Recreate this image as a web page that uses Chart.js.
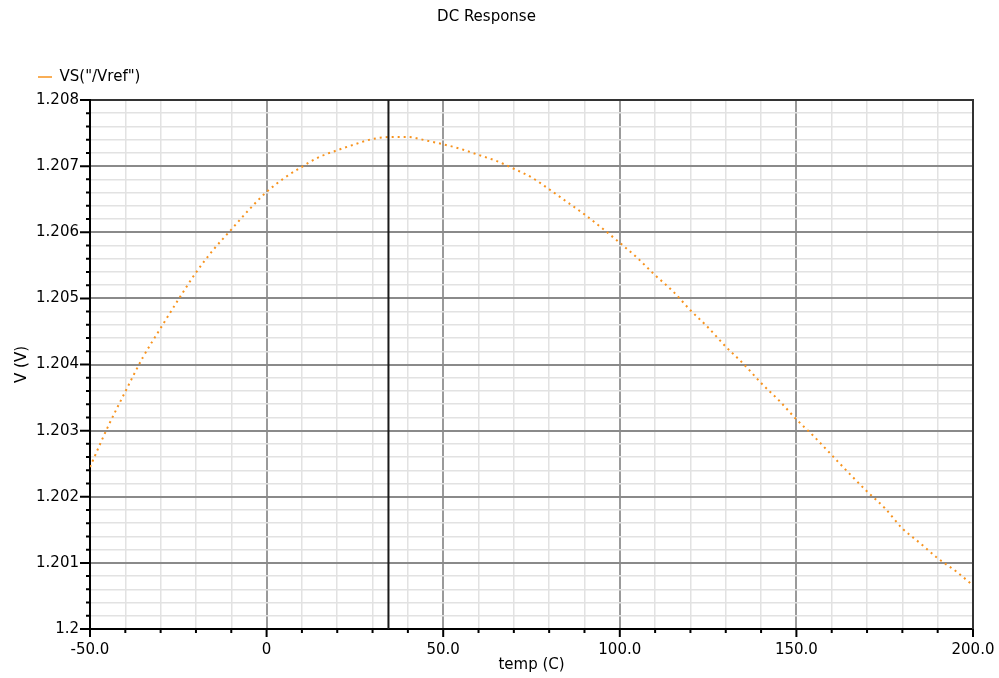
<!DOCTYPE html>
<html>
<head>
<meta charset="utf-8">
<title>DC Response</title>
<script src="https://cdn.jsdelivr.net/npm/chart.js@4.4.1/dist/chart.umd.min.js"></script>
<style>
  html, body { margin: 0; padding: 0; background: #fff; }
  #wrap { width: 999px; height: 678px; }
</style>
</head>
<body>
<div id="wrap"><canvas id="chart" width="999" height="678"></canvas></div>
<script>
// temperature sweep (C)
const temps = [
  -50, -45, -40, -35, -30, -25, -20, -15, -10, -5,
  0, 5, 10, 15, 20, 25, 30, 35, 40, 45,
  50, 55, 60, 65, 70, 75, 80, 85, 90, 95,
  100, 105, 110, 115, 120, 125, 130, 135, 140, 145,
  150, 155, 160, 165, 170, 175, 180, 185, 190, 195, 200
];
// VS("/Vref") in volts
const vref = [
  1.20245, 1.20305, 1.20359, 1.20411, 1.20455, 1.20498, 1.20539, 1.20574, 1.20604, 1.20634,
  1.20661, 1.20682, 1.20699, 1.20714, 1.20724, 1.20733, 1.20741, 1.20744, 1.20744, 1.20739,
  1.20733, 1.20726, 1.20717, 1.20708, 1.20696, 1.20683, 1.20665, 1.20646, 1.20627, 1.20606,
  1.20584, 1.20561, 1.20535, 1.20511, 1.20482, 1.20456, 1.20427, 1.20401, 1.20372, 1.20346,
  1.20317, 1.20291, 1.20263, 1.20235, 1.20208, 1.20183, 1.20152, 1.20130, 1.20107, 1.20088, 1.20066
];
const xRange = [-50, 200];
const yRange = [1.2, 1.208];
const cursorTemp = 34.5;

const orange = '#f7931e';

const isMajorX = (v) => Math.round(v) % 50 === 0;
const isMajorY = (v) => Math.round(v * 10000) % 10 === 0;

// outside tick marks (long on majors, short on minors) + cursor line
const extras = {
  id: 'extras',
  afterDatasetsDraw(chart) {
    const {ctx, chartArea, scales} = chart;
    const cx = scales.x.getPixelForValue(cursorTemp);
    ctx.save();
    ctx.strokeStyle = '#1a1a1a';
    ctx.lineWidth = 2;
    ctx.beginPath();
    ctx.moveTo(cx, chartArea.top);
    ctx.lineTo(cx, chartArea.bottom);
    ctx.stroke();
    ctx.restore();
  },
  afterDraw(chart) {
    const {ctx, chartArea, scales} = chart;
    ctx.save();
    ctx.strokeStyle = '#000';
    ctx.lineWidth = 2;
    ctx.beginPath();
    scales.x.ticks.forEach(t => {
      const px = scales.x.getPixelForValue(t.value);
      const len = isMajorX(t.value) ? 8 : 4;
      ctx.moveTo(px, chartArea.bottom);
      ctx.lineTo(px, chartArea.bottom + len);
    });
    scales.y.ticks.forEach(t => {
      const py = scales.y.getPixelForValue(t.value);
      const len = isMajorY(t.value) ? 10 : 4;
      ctx.moveTo(chartArea.left, py);
      ctx.lineTo(chartArea.left - len, py);
    });
    ctx.stroke();
    ctx.restore();
  }
};

Chart.defaults.font.family = "'DejaVu Sans', sans-serif";
Chart.defaults.font.size = 15;
Chart.defaults.color = '#000';

new Chart(document.getElementById('chart'), {
  type: 'line',
  data: {
    datasets: [{
      label: 'VS("/Vref")',
      data: temps.map((t, i) => ({x: t, y: vref[i]})),
      borderColor: orange,
      backgroundColor: orange,
      borderWidth: 2,
      borderDash: [2, 4],
      pointRadius: 0,
      cubicInterpolationMode: 'monotone',
      fill: false
    }]
  },
  options: {
    responsive: false,
    animation: false,
    layout: { padding: { left: 0, right: 26, top: 0, bottom: 0 } },
    plugins: {
      title: {
        display: true,
        text: 'DC Response',
        font: { size: 15, weight: 'normal' },
        padding: { top: 8, bottom: 5.5 }
      },
      legend: {
        align: 'start',
        labels: {
          usePointStyle: true,
          pointStyle: 'line',
          pointStyleWidth: 14,
          padding: 38,
          generateLabels: (chart) =>
            Chart.defaults.plugins.legend.labels.generateLabels(chart)
              .map(l => ({...l, lineDash: [], lineWidth: 1.5}))
        }
      },
      tooltip: { enabled: false }
    },
    scales: {
      x: {
        type: 'linear',
        position: 'bottom',
        min: xRange[0],
        max: xRange[1],
        afterFit: (s) => { s.height = 49; s.paddingLeft = 0; s.paddingRight = 0; },
        ticks: {
          stepSize: 10,
          autoSkip: false,
          maxRotation: 0,
          padding: 12,
          callback: (v) => isMajorX(v) ? (v === 0 ? '0' : v.toFixed(1)) : ''
        },
        grid: {
          drawTicks: false,
          color: (c) => isMajorX(c.tick.value) ? '#9a9a9a' : '#e2e2e2',
          lineWidth: (c) => isMajorX(c.tick.value) ? 2 : 1.5
        },
        border: { color: '#000', width: 2 },
        title: {
          display: true,
          text: 'temp (C)',
          font: { size: 15 },
          padding: { top: 0, bottom: 4 }
        }
      },
      x2: {
        type: 'linear',
        position: 'top',
        min: xRange[0],
        max: xRange[1],
        afterFit: (s) => { s.height = 5.5; s.paddingLeft = 0; s.paddingRight = 0; },
        ticks: { display: false },
        grid: { display: false, drawTicks: false },
        border: { color: '#333', width: 2 }
      },
      y: {
        type: 'linear',
        position: 'left',
        min: yRange[0],
        max: yRange[1],
        afterFit: (s) => { s.width = 90; },
        ticks: {
          stepSize: 0.0002,
          autoSkip: false,
          padding: 11,
          callback: (v) => isMajorY(v) ? String(Number(v.toFixed(3))) : ''
        },
        grid: {
          drawTicks: false,
          color: (c) => isMajorY(c.tick.value) ? '#8a8a8a' : '#e2e2e2',
          lineWidth: (c) => isMajorY(c.tick.value) ? 2 : 1.5
        },
        border: { color: '#000', width: 2 },
        title: {
          display: true,
          text: 'V (V)',
          font: { size: 15 },
          padding: { top: 13, bottom: 0 }
        }
      },
      y2: {
        type: 'linear',
        position: 'right',
        min: yRange[0],
        max: yRange[1],
        afterFit: (s) => { s.width = 0; },
        ticks: { display: false },
        grid: { display: false, drawTicks: false },
        border: { color: '#333', width: 2 }
      }
    }
  },
  plugins: [extras]
});
</script>
</body>
</html>
